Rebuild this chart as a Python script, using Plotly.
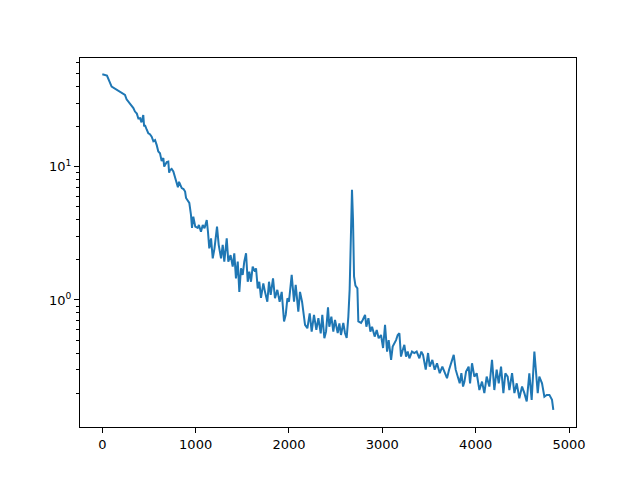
import plotly.graph_objects as go

steps = [0, 50, 100, 136, 165, 190, 215, 243, 260, 279, 297, 315, 333, 350, 370, 386, 404, 420, 439, 448,
         457, 475, 493, 510, 529, 547, 565, 583, 600, 618, 636, 654, 663, 672, 690, 707, 716, 725, 743, 761,
         779, 797, 810, 822, 836, 851, 870, 887, 897, 932, 950, 961, 975, 996, 1022, 1035, 1057, 1076, 1095, 1119,
         1132, 1146, 1165, 1183, 1202, 1229, 1247, 1272, 1290, 1307, 1333, 1350, 1374, 1397, 1414, 1432, 1451, 1468, 1486, 1504,
         1521, 1540, 1558, 1575, 1593, 1611, 1636, 1647, 1665, 1682, 1700, 1725, 1743, 1768, 1786, 1804, 1829, 1850, 1875, 1900,
         1922, 1947, 1965, 1983, 2000, 2029, 2054, 2072, 2100, 2118, 2140, 2172, 2197, 2222, 2243, 2268, 2293, 2315, 2340, 2357,
         2379, 2397, 2418, 2432, 2454, 2475, 2493, 2522, 2540, 2557, 2582, 2600, 2618, 2636, 2650, 2664, 2675, 2686, 2697, 2712,
         2733, 2743, 2772, 2790, 2815, 2829, 2851, 2872, 2890, 2918, 2940, 2961, 2986, 3008, 3029, 3051, 3068, 3094, 3111, 3147,
         3165, 3183, 3200, 3218, 3236, 3254, 3272, 3290, 3318, 3343, 3368, 3397, 3418, 3436, 3465, 3490, 3508, 3536, 3561, 3586,
         3615, 3643, 3668, 3693, 3715, 3740, 3765, 3786, 3811, 3829, 3847, 3865, 3880, 3897, 3925, 3940, 3961, 3986, 4011, 4040,
         4068, 4093, 4118, 4147, 4175, 4200, 4225, 4247, 4272, 4297, 4318, 4343, 4361, 4390, 4415, 4440, 4468, 4497, 4522, 4547,
         4575, 4600, 4629, 4647, 4665, 4682, 4711, 4736, 4761, 4790, 4818, 4832]

loss = [49.3, 48.2, 39.8, 38.3, 37.0, 36.5, 35.0, 34.5, 32.0, 30.7, 29.5, 28.2, 27.5, 25.9, 25.0, 23.0, 23.1, 21.5, 24.4, 20.0,
        20.5, 19.0, 17.8, 17.5, 16.8, 15.5, 15.8, 14.5, 13.0, 12.6, 11.0, 11.6, 10.0, 10.3, 10.8, 10.9, 9.0, 9.4, 9.6, 9.2,
        8.2, 7.5, 7.0, 7.7, 7.2, 6.9, 6.8, 6.5, 5.82, 5.34, 4.34, 3.47, 4.22, 3.55, 3.47, 3.65, 3.25, 3.65, 3.45, 3.98,
        3.25, 2.44, 2.90, 2.05, 2.44, 3.55, 2.59, 2.05, 2.59, 1.94, 2.90, 1.94, 2.17, 1.78, 2.24, 1.45, 1.94, 1.15, 1.73, 1.54,
        1.94, 2.24, 1.37, 1.63, 1.37, 1.78, 1.63, 1.73, 1.22, 1.37, 1.035, 1.33, 1.15, 0.97, 1.37, 1.09, 1.45, 1.03, 1.19, 0.97,
        1.15, 0.69, 0.772, 1.03, 0.97, 1.54, 0.97, 1.30, 0.817, 1.15, 0.97, 0.65, 0.613, 0.794, 0.578, 0.772, 0.596, 0.73, 0.562, 0.772,
        0.516, 0.578, 0.88, 0.63, 0.75, 0.578, 0.708, 0.565, 0.668, 0.546, 0.672, 0.565, 0.519, 0.75, 1.2, 3.5, 6.7, 4.0, 1.5, 1.28,
        1.22, 0.69, 0.672, 0.708, 0.772, 0.63, 0.73, 0.578, 0.63, 0.531, 0.596, 0.516, 0.546, 0.436, 0.65, 0.41, 0.50, 0.355, 0.447, 0.50,
        0.546, 0.562, 0.376, 0.42, 0.46, 0.376, 0.41, 0.365, 0.41, 0.40, 0.41, 0.365, 0.41, 0.387, 0.30, 0.40, 0.316, 0.355, 0.30, 0.335,
        0.282, 0.316, 0.29, 0.259, 0.30, 0.335, 0.387, 0.30, 0.266, 0.237, 0.282, 0.224, 0.244, 0.29, 0.316, 0.237, 0.335, 0.266, 0.282, 0.211,
        0.244, 0.20, 0.266, 0.224, 0.355, 0.211, 0.30, 0.237, 0.316, 0.20, 0.282, 0.266, 0.211, 0.282, 0.20, 0.237, 0.183, 0.224, 0.20, 0.173,
        0.282, 0.178, 0.41, 0.266, 0.20, 0.266, 0.237, 0.188, 0.194, 0.194, 0.178, 0.15]

x_ticks = [0, 1000, 2000, 3000, 4000, 5000]
y_ticks = [1, 10]
y_tick_text = ["10<sup>0</sup>", "10<sup>1</sup>"]
y_minor = [0.2, 0.3, 0.4, 0.5, 0.6, 0.7, 0.8, 0.9, 2, 3, 4, 5, 6, 7, 8, 9, 20, 30, 40, 50, 60]

fig = go.Figure()
fig.add_trace(go.Scatter(x=steps, y=loss, mode="lines",
                         line=dict(color="#1f77b4", width=2)))

font = dict(family="DejaVu Sans", size=13, color="black")
fig.update_layout(
    width=640, height=480,
    margin=dict(l=72, r=72, t=50, b=61),
    paper_bgcolor="white", plot_bgcolor="white",
    showlegend=False,
    font=font,
)
fig.update_xaxes(
    range=[-239, 5075], tickvals=x_ticks, ticks="outside", ticklen=5, tickwidth=1,
    tickcolor="black", showline=True, linecolor="black", linewidth=1, mirror=True,
    showgrid=False, zeroline=False, tickfont=font,
)
fig.update_yaxes(
    type="log", range=[-0.953, 1.815], tickvals=y_ticks, ticktext=y_tick_text,
    ticks="outside", ticklen=5, tickwidth=1, tickcolor="black",
    showline=True, linecolor="black", linewidth=1, mirror=True,
    showgrid=False, zeroline=False, tickfont=font,
    minor=dict(tickmode="array", tickvals=y_minor, ticks="outside", ticklen=3,
               tickwidth=1, tickcolor="black", showgrid=False),
)

fig.write_html("out.html")
